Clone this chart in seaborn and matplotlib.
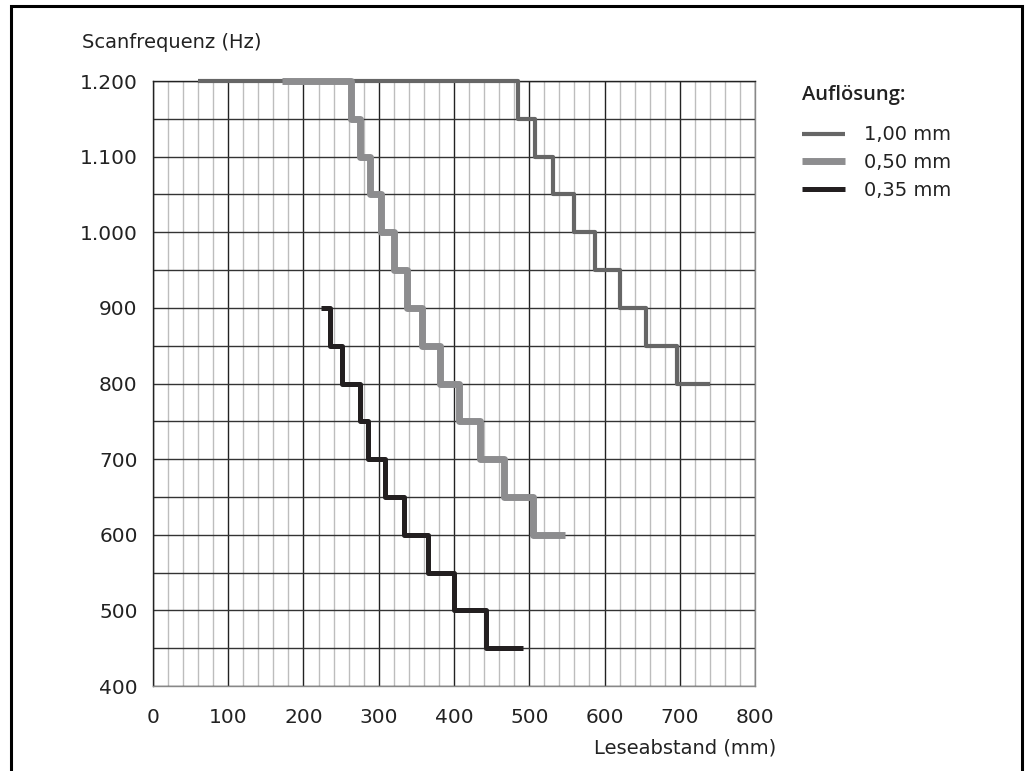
import matplotlib
matplotlib.use("Agg")
import matplotlib.pyplot as plt
import seaborn as sns
import pandas as pd
from matplotlib.ticker import MultipleLocator, FuncFormatter
from matplotlib.patches import Rectangle

# step curves: x = distance where each frequency level starts, last value = end of line
x_100 = [60, 485, 507, 531, 559, 587, 620, 655, 696, 740]
y_100 = [1200, 1150, 1100, 1050, 1000, 950, 900, 850, 800, 800]

x_050 = [172, 263, 275, 288, 303, 320, 338, 358, 381, 406, 435, 467, 505, 548]
y_050 = [1200, 1150, 1100, 1050, 1000, 950, 900, 850, 800, 750, 700, 650, 600, 600]

x_035 = [223, 235, 251, 275, 286, 308, 333, 365, 400, 442, 492]
y_035 = [900, 850, 800, 750, 700, 650, 600, 550, 500, 450, 450]

labels = ["1,00 mm", "0,50 mm", "0,35 mm"]
x_ticks = [0, 100, 200, 300, 400, 500, 600, 700, 800]
y_ticks = [400, 500, 600, 700, 800, 900, 1000, 1100, 1200]

sns.set_style("white")
plt.rcParams["font.family"] = ["DejaVu Sans"]

fig = plt.figure(figsize=(10.26, 7.71), dpi=100)
ax = fig.add_axes([0.1491, 0.1102, 0.5868, 0.7847])

styles = [
    (x_100, y_100, "#666666", 3.0),
    (x_050, y_050, "#8d8d8f", 5.0),
    (x_035, y_035, "#231f20", 3.6),
]
for (xs, ys, col, lw), lab in zip(styles, labels):
    df = pd.DataFrame({"x": xs, "y": ys})
    sns.lineplot(data=df, x="x", y="y", ax=ax, color=col, linewidth=lw,
                 drawstyle="steps-post", label=lab, clip_on=False, zorder=5,
                 solid_capstyle="butt")

ax.set_xlim(0, 800)
ax.set_ylim(400, 1200)
ax.set_xticks(x_ticks)
ax.set_yticks(y_ticks)
ax.xaxis.set_minor_locator(MultipleLocator(20))
ax.yaxis.set_minor_locator(MultipleLocator(50))
ax.yaxis.set_major_formatter(FuncFormatter(lambda v, p: f"{int(v):,}".replace(",", ".")))

ax.grid(which="major", axis="x", color="#222222", linewidth=1.0)
ax.grid(which="minor", axis="x", color="#bdbdbd", linewidth=1.0)
ax.grid(which="both", axis="y", color="#333333", linewidth=1.0)
ax.set_axisbelow(True)
ax.tick_params(which="both", length=0, labelsize=14.5, colors="#222222")
ax.tick_params(axis="x", pad=16)
ax.tick_params(axis="y", pad=11)

for side in ["left", "top"]:
    ax.spines[side].set_color("#222222")
    ax.spines[side].set_linewidth(1.0)
for side in ["right", "bottom"]:
    ax.spines[side].set_color("#888888")
    ax.spines[side].set_linewidth(1.0)

ax.set_xlabel("")
ax.set_ylabel("")
fig.text(0.080, 0.945, "Scanfrequenz (Hz)", fontsize=14, color="#222222",
         ha="left", va="center")
fig.text(0.757, 0.030, "Leseabstand (mm)", fontsize=14, color="#222222",
         ha="right", va="center")

# legend title as its own text, entries below
fig.text(0.7817, 0.877, "Auflösung:", fontsize=14.5, color="#222222",
         family=["Open Sans", "DejaVu Sans"], fontweight="semibold",
         ha="left", va="center")
leg = ax.legend(loc="upper left", bbox_to_anchor=(0.7647, 0.860),
                bbox_transform=fig.transFigure, frameon=False, fontsize=14,
                handlelength=2.2, handletextpad=1.0, labelspacing=0.45)
for t in leg.get_texts():
    t.set_color("#222222")

# outer frame (open at bottom)
fig.patches.append(Rectangle((0.0107, -0.05), 0.9854, 1.0422,
                             transform=fig.transFigure, fill=False,
                             edgecolor="black", linewidth=2.2))

fig.savefig("out.png", dpi=100)
